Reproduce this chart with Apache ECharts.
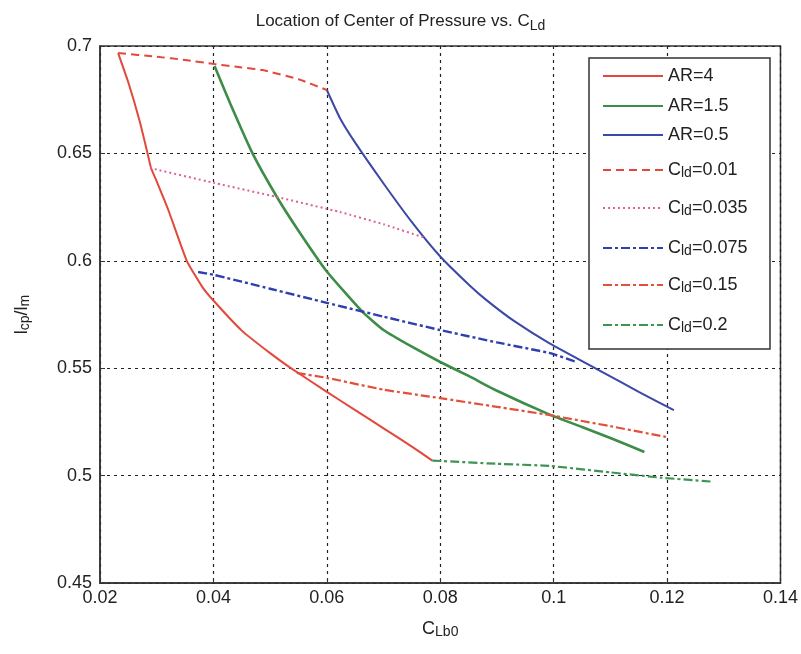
<!DOCTYPE html>
<html><head><meta charset="utf-8">
<script src="https://cdn.jsdelivr.net/npm/echarts@6/dist/echarts.min.js"></script>
<style>html,body{margin:0;padding:0;background:#fff}#c{width:801px;height:654px}</style>
</head><body><div id="c"></div>
<script>
// ---- data (x = C_Lb0, y = l_cp/l_m) ----
const ar4 = [[0.0232,0.6967],[0.025,0.683],[0.027,0.665],[0.0283,0.651],[0.029,0.6432],[0.030,0.637],[0.032,0.624],[0.0353,0.600],[0.038,0.588],[0.040,0.5815],[0.045,0.5675],[0.050,0.557],[0.0534,0.5505],[0.060,0.539],[0.065,0.5305],[0.070,0.522],[0.075,0.5135],[0.0786,0.5070]];
const ar15 = [[0.0402,0.6907],[0.043,0.673],[0.0469,0.650],[0.0512,0.6297],[0.055,0.614],[0.060,0.595],[0.0663,0.5762],[0.070,0.5678],[0.075,0.560],[0.080,0.5529],[0.085,0.5464],[0.090,0.5395],[0.0992,0.5285],[0.105,0.5226],[0.110,0.5175],[0.116,0.5110]];
const ar05 = [[0.060,0.6795],[0.0623,0.6665],[0.065,0.655],[0.070,0.636],[0.075,0.618],[0.080,0.602],[0.085,0.589],[0.0881,0.5818],[0.093,0.572],[0.0992,0.5617],[0.1086,0.5482],[0.115,0.539],[0.1212,0.5305]];
const cld001 = [[0.0232,0.6967],[0.030,0.695],[0.035,0.6935],[0.0402,0.6916],[0.045,0.690],[0.0487,0.6888],[0.055,0.6845],[0.060,0.6795]];
const cld0035 = [[0.0288,0.6432],[0.0402,0.6362],[0.0512,0.6297],[0.0623,0.6227],[0.070,0.617],[0.0775,0.6105]];
const cld0075 = [[0.0373,0.5948],[0.040,0.5935],[0.050,0.587],[0.060,0.5804],[0.070,0.574],[0.0799,0.5678],[0.090,0.562],[0.0992,0.5571],[0.104,0.5529]];
const cld015 = [[0.0547,0.5478],[0.060,0.5455],[0.070,0.540],[0.0799,0.5361],[0.090,0.532],[0.0992,0.5282],[0.110,0.523],[0.1198,0.5180]];
const cld02 = [[0.0786,0.5070],[0.090,0.5055],[0.0992,0.5045],[0.110,0.5015],[0.1191,0.4990],[0.1279,0.4972]];

const seriesNames = ['AR=4','AR=1.5','AR=0.5','Cld=0.01','Cld=0.035','Cld=0.075','Cld=0.15','Cld=0.2'];
const seriesData = [ar4, ar15, ar05, cld001, cld0035, cld0075, cld015, cld02];
const xMin = 0.02, xMax = 0.14, xStep = 0.02;
const yMin = 0.45, yMax = 0.7, yStep = 0.05;

const colors = ['#e2483c','#3d8c48','#3a48a6','#e2483c','#e0609c','#2f3fb0','#e2503c','#3f9452'];
const dashes = ['solid','solid','solid',[8,5],[2,3],[9,3,3,3],[9,3,3,3],[9,3,3,3]];
const widths = [2,2.6,2,2,2,2.4,2.2,2.2];
const legendY = [77,107,136,168,206,246,283,323];

const font = 'Liberation Sans, Arial, sans-serif';
const rich = {
  n:{fontSize:18,fontFamily:font,color:'#222',lineHeight:20},
  s:{fontSize:14,fontFamily:font,color:'#222',verticalAlign:'bottom',lineHeight:12,padding:[8,0,0,0]}
};
function fmt(name){
  if(name.indexOf('Cld')===0){return '{n|C}{s|ld}{n|'+name.slice(3)+'}';}
  return '{n|'+name+'}';
}

const chart = echarts.init(document.getElementById('c'));
chart.setOption({
  animation:false,
  backgroundColor:'#fff',
  title:{
    text:'{a|Location of Center of Pressure vs. C}{b|Ld}',
    left:'center', top:4,
    textStyle:{fontWeight:'normal',rich:{
      a:{fontSize:17,fontFamily:font,color:'#222',fontWeight:'normal'},
      b:{fontSize:14,fontFamily:font,color:'#222',fontWeight:'normal',padding:[10,0,0,0]}
    }}
  },
  grid:{left:100,right:20,top:46,bottom:71,show:true,borderColor:'#333',borderWidth:1.5,backgroundColor:'transparent'},
  xAxis:{
    type:'value',min:xMin,max:xMax,interval:xStep,
    name:'{n|C}{s|Lb0}',nameLocation:'middle',nameGap:36,
    nameTextStyle:{rich:rich},
    axisLine:{lineStyle:{color:'#333',width:1.5}},
    axisTick:{inside:true,length:5,lineStyle:{color:'#333'}},
    axisLabel:{fontSize:18,fontFamily:font,color:'#222',margin:6,formatter:v=>String(+v.toFixed(2))},
    splitLine:{show:true,lineStyle:{color:'#222',type:[3,4],width:1.2}}
  },
  yAxis:{
    type:'value',min:yMin,max:yMax,interval:yStep,
    name:'{n|l}{s|cp}{n|/l}{s|m}',nameLocation:'middle',nameGap:68,nameRotate:90,
    nameTextStyle:{rich:rich},
    axisLine:{lineStyle:{color:'#333',width:1.5}},
    axisTick:{inside:true,length:5,lineStyle:{color:'#333'}},
    axisLabel:{fontSize:18,fontFamily:font,color:'#222',margin:8,formatter:v=>String(+v.toFixed(2))},
    splitLine:{show:true,lineStyle:{color:'#222',type:[3,4],width:1.2}}
  },
  graphic:[{type:'rect',z:3,shape:{x:589,y:58,width:181,height:291},style:{fill:'#fff',stroke:'#333',lineWidth:1.5}}],
  legend: seriesNames.map((nm,i)=>({
    data:[nm], orient:'vertical', left:602, top:legendY[i]-10, padding:0,
    itemWidth:60, itemHeight:20, itemGap:0, z:6, selectedMode:false,
    itemStyle:{opacity:0},
    formatter:fmt, textStyle:{rich:rich}
  })),
  series: seriesNames.map((nm,i)=>({
    name:nm, type:'line', data:seriesData[i], smooth:0.15, symbol:'none', showSymbol:false,
    lineStyle:{color:colors[i],width:widths[i],type:dashes[i]}, itemStyle:{color:colors[i]},
    z:2
  }))
});
</script></body></html>
